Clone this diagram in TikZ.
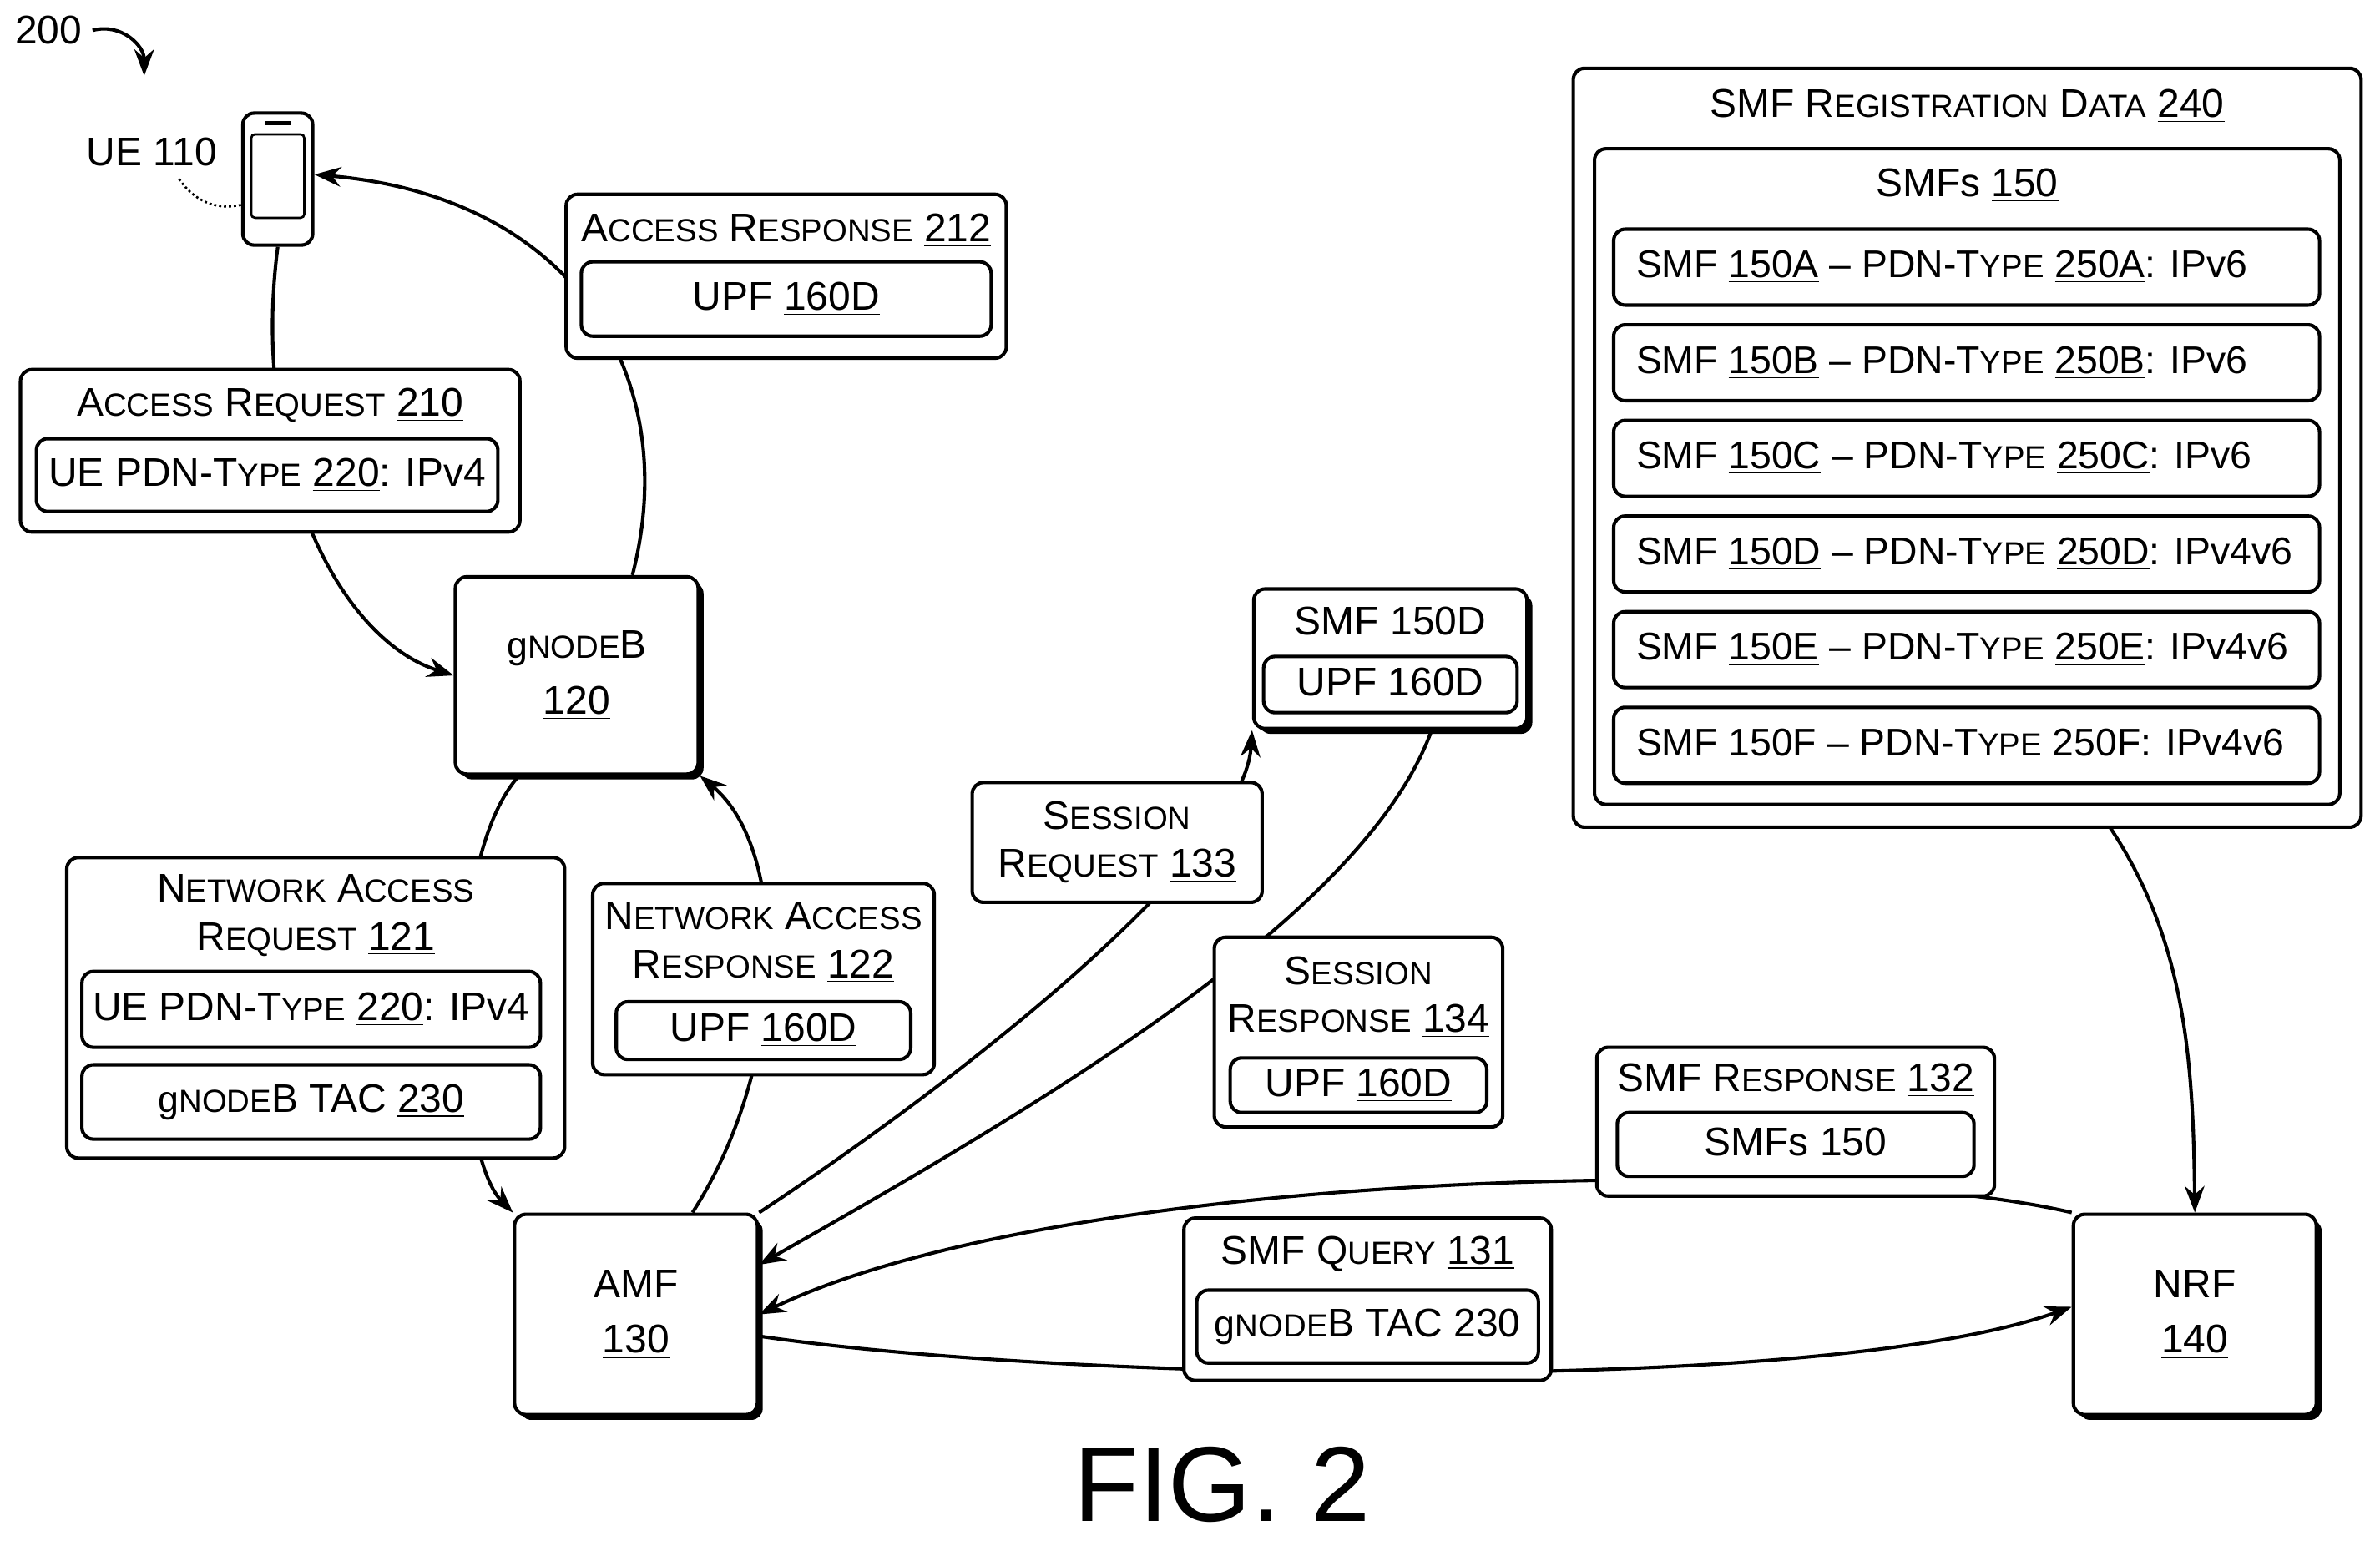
\documentclass[tikz,border=0pt]{standalone}
\usepackage{fontspec}
\setmainfont{Liberation Sans}
\usetikzlibrary{shadows,arrows.meta}
\newcommand{\capsc}[2]{#1{\fontsize{12}{14}\selectfont\MakeUppercase{#2}}}
\newcommand{\gnb}{{\fontsize{14}{16}\selectfont g}{\fontsize{12}{14}\selectfont NODE}B}
\begin{document}
\begin{tikzpicture}[x=0.2mm, y=-0.2mm, line width=0.45mm,
    font=\fontsize{15}{18}\selectfont,
    box/.style = {draw, rounded corners=1.5mm, fill=white, inner sep=0pt},
    main/.style = {box, drop shadow={shadow xshift=0.7mm, shadow yshift=-0.7mm, fill=black, opacity=1}, align=center},
    conn/.style = {-{Stealth[length=3.5mm, width=2.6mm]}}]
  \useasboundingbox (0,0) rectangle (1568,1015);
  % boxes with shadow
  \node[main, minimum width=32mm, minimum height=26mm] (gnb) at (380,445) {\gnb\\[1mm]\underline{120}};
  \node[main, minimum width=32mm, minimum height=26.4mm] (amf) at (419,866) {AMF\\[1mm]\underline{130}};
  \node[main, minimum width=32mm, minimum height=26.4mm] (nrf) at (1446,866) {NRF\\[1mm]\underline{140}};
  \node[main, minimum width=36mm, minimum height=18.4mm] (smfd) at (916,434) {};
  % phone
  \node[box, minimum width=9.2mm, minimum height=17.4mm] (ue) at (183,118) {};
  \node[draw, rounded corners=0.5mm, minimum width=7mm, minimum height=11mm, line width=0.3mm] (scr) at (183,116) {};
  \node[draw, line width=0.3mm, minimum width=3mm, minimum height=0.2mm, inner sep=0pt] (spk) at (183,81) {};
  \node[inner sep=0pt] (uelbl) at (100,100) {UE 110};
  \draw[line width=0.3mm, densely dotted] (118,118) .. controls (130,135) and (145,138) .. (ue.west |- 0,135);
  % figure number
  \node (num) at (32,20) {200};
  \coordinate (numend) at (95,50);
  \draw[conn] (num.east) .. controls (80,15) and (95,30) .. (numend);
  % connectors
  \draw[conn] (gnb.61) .. controls (450,250) and (380,130) .. (ue.east |- 0,115);
  \draw[conn] (ue.south) .. controls (165,300) and (220,420) .. (gnb.west);
  \draw[conn] (gnb.240) .. controls (290,570) and (300,760) .. (amf.north west);
  \draw[conn] (amf.61) .. controls (520,700) and (520,560) .. (gnb.south east);
  \draw[conn] (amf.north east) .. controls (650,700) and (820,560) .. (smfd.south west);
  \draw[conn] (smfd.-60) .. controls (900,600) and (700,720) .. (amf.22);
  \draw[conn] (nrf.north west) .. controls (1200,760) and (700,770) .. (amf.east);
  \draw[conn] (amf.-10) .. controls (700,910) and (1200,920) .. ([yshift=1mm]nrf.west);
  % labels on connectors
  \node[box, minimum width=58mm, minimum height=21.6mm] (ares) at (518,182) {};
  \node (aresT) at (518,152) {\capsc{A}{ccess} \capsc{R}{esponse} \underline{212}};
  \node[box, minimum width=54mm, minimum height=9.8mm] (aresU) at (518,197) {UPF \underline{160D}};
  \node[box, minimum width=65.8mm, minimum height=21.4mm] (areq) at (178,297) {};
  \node (areqT) at (178,267) {\capsc{A}{ccess} \capsc{R}{equest} \underline{210}};
  \node[box, minimum width=60.8mm, minimum height=9.6mm] (areqU) at (176,313) {UE PDN-\capsc{T}{ype} \underline{220}: IPv4};
  \node (smfdT) at (916,411) {SMF \underline{150D}};
  \node[box, minimum width=33.4mm, minimum height=7.4mm] (smfdU) at (916,451) {UPF \underline{160D}};
  \node[box, minimum width=38.2mm, minimum height=15.8mm, align=center] (sreq) at (736,555) {\capsc{S}{ession}\\\capsc{R}{equest} \underline{133}};
  \node[box, minimum width=65.6mm, minimum height=39.6mm] (nareq) at (208,664) {};
  \node[align=center] (nareqT) at (208,603) {\capsc{N}{etwork} \capsc{A}{ccess}\\\capsc{R}{equest} \underline{121}};
  \node[box, minimum width=60.4mm, minimum height=10mm] (nareqU) at (205,665) {UE PDN-\capsc{T}{ype} \underline{220}: IPv4};
  \node[box, minimum width=60.4mm, minimum height=9.8mm] (nareqG) at (205,726) {\gnb{} TAC \underline{230}};
  \node[box, minimum width=45mm, minimum height=25.2mm] (nares) at (503,645) {};
  \node[align=center] (naresT) at (503,621) {\capsc{N}{etwork} \capsc{A}{ccess}\\\capsc{R}{esponse} \underline{122}};
  \node[box, minimum width=38.8mm, minimum height=7.6mm] (naresU) at (503,679) {UPF \underline{160D}};
  \node[box, minimum width=38mm, minimum height=25mm] (sres) at (895,680) {};
  \node[align=center] (sresT) at (895,657) {\capsc{S}{ession}\\\capsc{R}{esponse} \underline{134}};
  \node[box, minimum width=33.8mm, minimum height=7.2mm] (sresU) at (895,715) {UPF \underline{160D}};
  \node[box, minimum width=52.4mm, minimum height=19.6mm] (smfr) at (1183,739) {};
  \node (smfrT) at (1183,712) {SMF \capsc{R}{esponse} \underline{132}};
  \node[box, minimum width=47mm, minimum height=8.4mm] (smfrU) at (1183,754) {SMFs \underline{150}};
  \node[box, minimum width=48.4mm, minimum height=21.4mm] (smfq) at (901,856) {};
  \node (smfqT) at (901,826) {SMF \capsc{Q}{uery} \underline{131}};
  \node[box, minimum width=45mm, minimum height=9.6mm] (smfqU) at (901,874) {\gnb{} TAC \underline{230}};
  % registration data
  \draw[conn] (1390,545) .. controls (1440,620) and (1445,700) .. (nrf.north);
  \node[box, minimum width=103.8mm, minimum height=100mm] (reg) at (1296,295) {};
  \node (regT) at (1296,70) {SMF \capsc{R}{egistration} \capsc{D}{ata} \underline{240}};
  \node[box, minimum width=98.2mm, minimum height=86.4mm] (smfs) at (1296,314) {};
  \node (smfsT) at (1296,122) {SMFs \underline{150}};
  \foreach \n/\y/\t in {a/176/6, b/239/6, c/302/6, d/365/4v6, e/428/4v6, f/491/4v6}{
    \node[box, minimum width=93mm, minimum height=10mm, anchor=west] (row\n) at (1062,\y) {};
    \node[anchor=west, font=\fontsize{14.5}{17}\selectfont] (rowT\n) at (1071,\y)
      {SMF \underline{150\MakeUppercase{\n}} -- PDN-\capsc{T}{ype} \underline{250\MakeUppercase{\n}}: IPv\t};
  }
  \node[font=\fontsize{40}{44}\selectfont] (fig) at (805,978) {FIG. 2};
\end{tikzpicture}
\end{document}
